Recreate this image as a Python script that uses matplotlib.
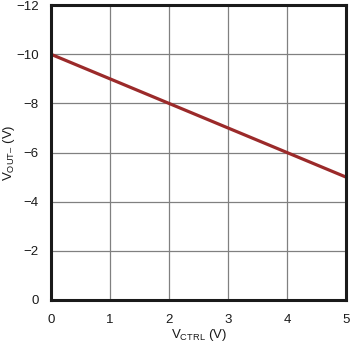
import matplotlib
matplotlib.use("Agg")
import matplotlib.pyplot as plt

plt.rcParams['font.family'] = ['Liberation Sans', 'DejaVu Sans']
plt.rcParams['mathtext.fontset'] = 'custom'
plt.rcParams['mathtext.rm'] = 'Liberation Sans'

v_ctrl = [0, 5]
v_out = [-10, -5]

x_ticks = [0, 1, 2, 3, 4, 5]
y_ticks = [0, -2, -4, -6, -8, -10, -12]

fig = plt.figure(figsize=(3.5, 3.46), dpi=100)
ax = fig.add_axes([0.146, 0.133, 0.843, 0.852])

ax.plot(v_ctrl, v_out, color='#9b2a2a', linewidth=2.3, solid_capstyle='butt')

ax.set_xlim(0, 5)
ax.set_ylim(0, -12)
ax.set_xticks(x_ticks)
ax.set_yticks(y_ticks)
ax.set_yticklabels(['0' if v == 0 else '\u2212' + str(-v) for v in y_ticks])
ax.grid(True, color='#808080', linewidth=0.9)
ax.tick_params(length=0, labelsize=9.5, colors='#1a1a1a')
ax.tick_params(axis='x', pad=10)
ax.tick_params(axis='y', pad=9)
for s in ax.spines.values():
    s.set_linewidth(2.2)
    s.set_color('#1a1a1a')

ax.set_xlabel(r'V$_{\mathregular{CTRL}}$ (V)', fontsize=9.5, labelpad=1, color='#1a1a1a')
ax.set_ylabel('V$_{\\mathregular{OUT\u2013}}$ (V)', fontsize=9.5, color='#1a1a1a')
ax.yaxis.set_label_coords(-0.115, 0.5)

fig.savefig('out.png', dpi=100)
